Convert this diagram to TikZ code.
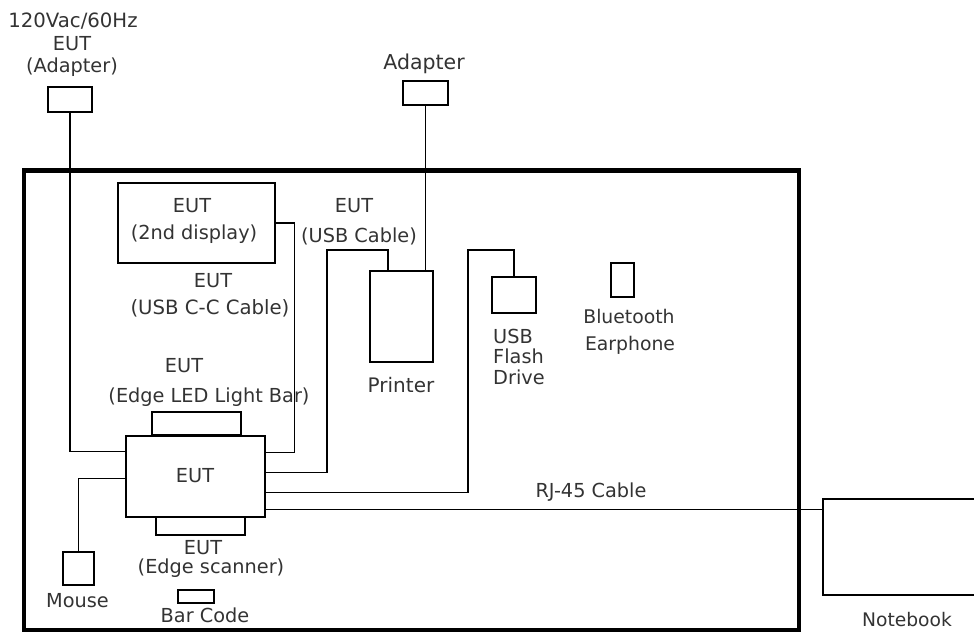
\documentclass[tikz,border=0pt]{standalone}
\usepackage{fontspec}
\setmainfont{DejaVu Sans}
\begin{document}
\begin{tikzpicture}[x=1pt,y=-1pt,
  box/.style={draw, line width=1.4pt, inner sep=0pt, fill=white},
  wire/.style={line width=1.3pt},
  frame/.style={line width=4.5pt},
  lbl/.style={inner sep=0pt, anchor=base, text=black!80, font=\fontsize{19.3}{22}\selectfont},
  fs/.style={font=\fontsize{#1}{22}\selectfont}]
\useasboundingbox (0,0) rectangle (974,635);
% main enclosure
\draw[frame] (24,170.5) rectangle (799,630);
% boxes
\node[box, minimum width=44pt, minimum height=25pt] (adL) at (70,99.5) {};
\node[box, minimum width=45pt, minimum height=24pt] (adR) at (425.5,93) {};
\node[box, minimum width=157pt, minimum height=80pt] (disp) at (196.5,223) {};
\node[box, minimum width=63pt, minimum height=91pt] (printer) at (401.5,316.5) {};
\node[box, minimum width=44pt, minimum height=36pt] (flash) at (514,295) {};
\node[box, minimum width=23pt, minimum height=34pt] (bt) at (622.5,280) {};
\node[box, minimum width=89pt, minimum height=23pt] (lightbar) at (196.5,423.5) {};
\node[box, minimum width=139pt, minimum height=81pt] (eut) at (195.5,476.5) {};
\node[box, minimum width=89pt, minimum height=18pt] (scanner) at (200.5,526) {};
\node[box, minimum width=31pt, minimum height=33pt] (mouse) at (78.5,568.5) {};
\node[box, minimum width=36pt, minimum height=13pt] (barcode) at (196,596.5) {};
\node[box, minimum width=167pt, minimum height=96pt] (notebook) at (906.5,547) {};
% connectors
\draw[wire] (adL.south) |- ([yshift=-16pt]eut.north west);
\draw[wire] (disp.east) -- ++(19,0) |- ([yshift=-17pt]eut.north east);
\draw[wire] ([yshift=-37pt]eut.north east) -| (327,250) -| ([xshift=-13.5pt]printer.north);
\draw[wire] (adR.south) -- (adR.south |- printer.north);
\draw[wire] ([yshift=-57pt]eut.north east) -| (468,250) -| (flash.north);
\draw[wire] ([yshift=-43pt]eut.north west) -| (mouse.north);
\draw[wire] ([yshift=-74pt]eut.north east) -- ([yshift=-11pt]notebook.north west);
% labels
\node[lbl, fs=19.7] (tAC) at (73,27) {120Vac/60Hz};
\node[lbl] (tAdLa) at (72,50) {EUT};
\node[lbl] (tAdLb) at (72,72) {(Adapter)};
\node[lbl, fs=20.5] (tAdR) at (424,69) {Adapter};
\node[lbl] (tDispa) at (192,212) {EUT};
\node[lbl] (tDispb) at (194,239) {(2nd display)};
\node[lbl] (tCCa) at (213,287) {EUT};
\node[lbl, fs=19.7] (tCCb) at (210,314) {(USB C-C Cable)};
\node[lbl] (tUSBa) at (354,212) {EUT};
\node[lbl] (tUSBb) at (359,242) {(USB Cable)};
\node[lbl, fs=20] (tPrinter) at (401,392) {Printer};
\node[lbl, anchor=base west] (tFla) at (493,343) {USB};
\node[lbl, anchor=base west] (tFlb) at (493,363) {Flash};
\node[lbl, anchor=base west] (tFlc) at (493,384) {Drive};
\node[lbl, fs=18.8] (tBTa) at (629,323) {Bluetooth};
\node[lbl, fs=18.8] (tBTb) at (630,350) {Earphone};
\node[lbl] (tLBa) at (184,372) {EUT};
\node[lbl] (tLBb) at (209,402) {(Edge LED Light Bar)};
\node[lbl] (tEUT) at (195,482) {EUT};
\node[lbl] (tScA) at (203,554) {EUT};
\node[lbl] (tScB) at (211,573) {(Edge scanner)};
\node[lbl] (tMouse) at (77.5,607) {Mouse};
\node[lbl] (tBar) at (205,622) {Bar Code};
\node[lbl] (tRJ) at (591,497) {RJ-45 Cable};
\node[lbl, fs=18.7] (tNb) at (907,626) {Notebook};
\end{tikzpicture}
\end{document}
